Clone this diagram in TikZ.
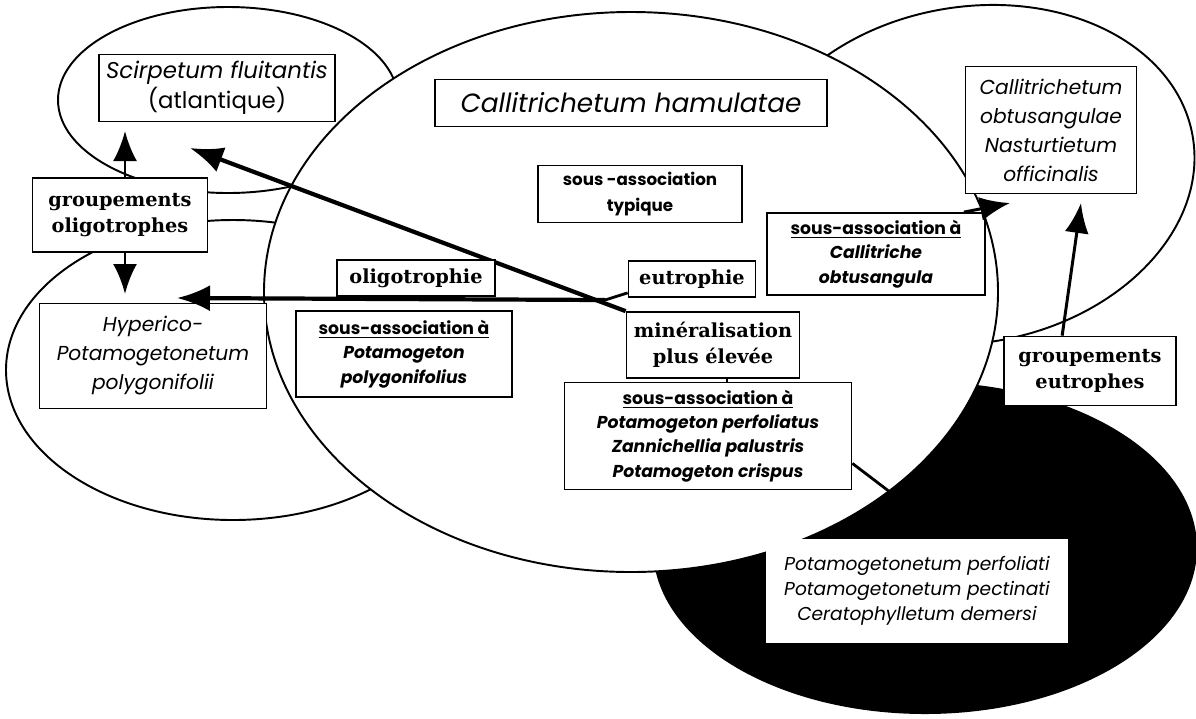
\documentclass[tikz,border=0pt]{standalone}
\usepackage{fontspec}
\newfontfamily\gothic{Poppins}
\newfontfamily\slab{DejaVu Serif}
\usetikzlibrary{arrows.meta}
\usetikzlibrary{calc}

\begin{document}
\begin{tikzpicture}[x=0.02cm, y=-0.02cm,
    every node/.style={align=center, inner sep=0pt},
    box/.style={draw, fill=white, line width=1pt},
    slabtxt/.style={font=\slab\bfseries\fontsize{11}{15}\selectfont},
    ittxt/.style={font=\gothic\itshape\fontsize{11.5}{16.5}\selectfont},
    subtxt/.style={font=\gothic\bfseries\fontsize{9.8}{13.8}\selectfont},
    zone/.style={line width=1.1pt},
    bigarr/.style={-{Latex[length=0.66cm,width=0.52cm]}, line width=2.4pt},
    arr/.style={-{Latex[length=0.6cm,width=0.48cm]}, line width=1.7pt}]

        \useasboundingbox (0,0) rectangle (1196,718);

        % Zones (ellipses), back to front
        \fill (925,548) ellipse [x radius=272, y radius=166];
        \draw[zone, fill=white] (228,100) ellipse [x radius=170, y radius=93];
        \draw[zone, fill=white] (233,370) ellipse [x radius=227, y radius=150];
        \draw[zone, fill=white, rotate around={10:(970,175)}] (970,175) ellipse [x radius=226, y radius=168];
        \draw[densely dashed, thin] (938,343) -- (993,338);
        \draw[zone, fill=white] (631,292) ellipse [x radius=367, y radius=280];

        % Arrow ends and junction
        \coordinate (tipS) at (190,148);
        \coordinate (tipH) at (177,298);
        \coordinate (J) at (605,300);
        \coordinate (tipC) at (1010,203);
        \coordinate (tipN) at (1081,203);

        % Left: oligotrophic groups
        \node[box, minimum width=4.72cm, minimum height=1.34cm, font=\gothic\fontsize{13}{17}\selectfont]
            (scirp) at (217,88) {{\itshape Scirpetum fluitantis}\\(atlantique)};
        \node[box, slabtxt, minimum width=3.5cm, minimum height=1.48cm]
            (groli) at (120,215) {groupements\\oligotrophes};
        \node[box, ittxt, minimum width=4.54cm, minimum height=2.1cm]
            (hyper) at (153,356) {Hyperico-\\Potamogetonetum\\polygonifolii};

        \draw[arr] (groli.north -| 125,0) -- (125,131);
        \draw[arr] (groli.south -| 125,0) -- (125,294);

        % Middle: Callitrichetum hamulatae
        \draw[bigarr] (J) -- (tipH);

        \node[box, minimum width=3.46cm, minimum height=1.32cm, slabtxt]
            (miner) at (713,345) {minéralisation\\plus élevée};
        \draw[bigarr] (miner.north west) -- (tipS);

        \node[box, font=\gothic\itshape\fontsize{15}{18}\selectfont, minimum width=7.84cm, minimum height=0.94cm]
            (calham) at (631,103) {Callitrichetum hamulatae};
        \node[box, minimum width=4.08cm, minimum height=1.14cm, font=\gothic\bfseries\fontsize{9.5}{15}\selectfont]
            (typ) at (640,194) {sous -association\\typique};
        \node[box, slabtxt, minimum width=3.16cm, minimum height=0.72cm]
            (oligo) at (416,278) {oligotrophie};
        \node[box, slabtxt, minimum width=2.54cm, minimum height=0.72cm]
            (eutr) at (692,279) {eutrophie};
        \draw[line width=1.6pt] ($(eutr.south west)+(0,-5)$) -- (J);

        \node[box, subtxt, minimum width=4.32cm, minimum height=1.72cm]
            (ssPoly) at (404,354) {\underline{sous-association à}\\\itshape Potamogeton\\\itshape polygonifolius};
        \node[box, subtxt, minimum width=5.74cm, minimum height=2.14cm]
            (ssPerf) at (708,436) {\underline{sous-association à}\\\itshape Potamogeton perfoliatus\\\itshape Zannichellia palustris\\\itshape Potamogeton crispus};
        \draw[line width=1pt] (miner.south -| 727,0) -- (ssPerf.north -| 727,0);
        \draw[line width=1.6pt] ($(ssPerf.south east)+(0,-27)$) -- (890,492);

        \node[box, subtxt, minimum width=4.36cm, minimum height=1.64cm]
            (ssCal) at (876,254) {\underline{sous-association à}\\\itshape Callitriche\\\itshape obtusangula};

        % Right: eutrophic groups
        \node[box, ittxt, minimum width=3.42cm, minimum height=2.54cm, line width=0.6pt]
            (calobt) at (1051,130) {Callitrichetum\\obtusangulae\\Nasturtietum\\officinalis};
        \node[box, slabtxt, minimum width=3.44cm, minimum height=1.38cm]
            (greut) at (1090,371) {groupements\\eutrophes};

        \draw[arr] ($(ssCal.north east)+(-22,0)$) -- (tipC);
        \draw[arr] ($(greut.north west)+(59,0)$) -- (tipN);

        \node[fill=white, minimum width=6.04cm, minimum height=2.08cm, font=\gothic\itshape\fontsize{10.6}{14.2}\selectfont]
            (potam) at (917,591) {Potamogetonetum perfoliati\\Potamogetonetum pectinati\\Ceratophylletum demersi};

\end{tikzpicture}
\end{document}
